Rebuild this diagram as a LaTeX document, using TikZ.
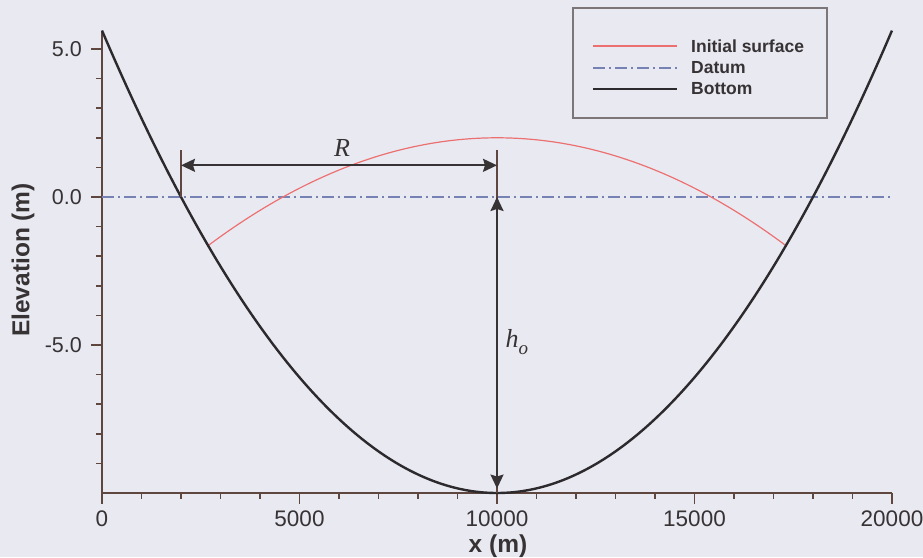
\documentclass[tikz,border=0pt]{standalone}
\usepackage{fontspec}
\setmainfont{Liberation Sans}
\newfontfamily\serifit{Liberation Serif}
\usetikzlibrary{arrows.meta}
\definecolor{bg}{RGB}{233,233,242}
\definecolor{axiscol}{RGB}{95,70,62}
\definecolor{curvecol}{RGB}{45,42,45}
\definecolor{redcol}{RGB}{236,112,112}
\definecolor{datumcol}{RGB}{118,130,180}
\definecolor{legbox}{RGB}{125,118,120}
\definecolor{textcol}{RGB}{55,50,52}
\tikzset{
  axisline/.style={draw=axiscol, line width=2pt},
  ticks/.style={draw=axiscol, line width=1.6pt},
  bottomline/.style={draw=curvecol, line width=2.4pt},
  redline/.style={draw=redcol, line width=1.2pt},
  datumline/.style={draw=datumcol, line width=1.3pt, dash pattern=on 12pt off 4pt on 2pt off 4pt},
  dimarrow/.style={draw=textcol, line width=2pt, {Stealth[length=14pt,width=13pt,inset=2pt]}-{Stealth[length=14pt,width=13pt,inset=2pt]}},
  guide/.style={draw=axiscol, line width=1.8pt},
  yticklabel/.style={inner sep=0pt, text=textcol, font=\fontsize{21.5}{25}\selectfont},
  xticklabel/.style={inner sep=0pt, text=textcol, font=\fontsize{22.5}{26}\selectfont},
  axlabel/.style={inner sep=0pt, text=textcol, font=\fontsize{24.5}{28}\selectfont\bfseries},
  legtext/.style={inner sep=0pt, anchor=west, text=textcol, font=\fontsize{17.5}{20}\selectfont\bfseries},
  mathlabel/.style={inner sep=0pt, text=textcol, font=\fontsize{26}{30}\selectfont\serifit\itshape}
}
\begin{document}
\begin{tikzpicture}[x=1pt,y=1pt]
\fill[bg] (0,0) rectangle (923,557);
\useasboundingbox (0,0) rectangle (923,557);

% legend
\node[draw=legbox, line width=1.2pt, minimum width=254pt, minimum height=110pt, inner sep=0pt] (legend) at (700,494) {};
\coordinate (l1a) at (593,511); \coordinate (l1b) at (677,511);
\coordinate (l2a) at (593,489); \coordinate (l2b) at (677,489);
\coordinate (l3a) at (593,468); \coordinate (l3b) at (677,468);
\draw[redline] (l1a) -- (l1b);
\draw[datumline] (l2a) -- (l2b);
\draw[bottomline] (l3a) -- (l3b);
\node[legtext] (t1) at (691,511) {Initial surface};
\node[legtext] (t2) at (691,489) {Datum};
\node[legtext] (t3) at (691,468) {Bottom};

\begin{scope}[shift={(102pt,360pt)}, x=39.5pt, y=29.6pt]
  % axes
  \draw[axisline] (0,-10) -- (0,5.62);
  \draw[axisline] (0,-10) -- (20,-10);
  \foreach \v in {-9,-8,-7,-6,-4,-3,-2,-1,1,2,3,4}
    \draw[ticks] (0,\v) -- ++(-6pt,0);
  \foreach \v/\t in {-5/-5.0,0/0.0,5/5.0} {
    \draw[ticks] (0,\v) -- ++(-11pt,0);
    \node[yticklabel, anchor=east] (yl\v) at ([xshift=-20pt]0,\v) {\t};
  }
  \foreach \u in {1,2,3,4,6,7,8,9,11,12,13,14,16,17,18,19}
    \draw[ticks] (\u,-10) -- ++(0,-6pt);
  \foreach \u/\t in {0/0,5/5000,10/10000,15/15000,20/20000} {
    \draw[ticks] (\u,-10) -- ++(0,-11pt);
    \node[xticklabel, anchor=north] (xl\u) at ([yshift=-18pt]\u,-10) {\t};
  }
  % curves
  \draw[datumline] (0,0) -- (20,0);
  \draw[redline] plot[domain=2.686:17.314, samples=81, smooth] (\x, {2-0.0681*(\x-10)^2});
  \draw[bottomline] plot[domain=0:20, samples=121, smooth] (\x, {-10*(1-((\x-10)/8)^2)});
  % dimension lines
  \coordinate (tickL0) at (2,0);
  \coordinate (tickL1) at (2,1.59);
  \coordinate (vT) at (10,1.59);
  \coordinate (vB) at (10,-10);
  \draw[guide] (tickL0) -- (tickL1);
  \draw[guide] (vT) -- (vB);
  \coordinate (Rl) at (2,1.07);
  \coordinate (Rr) at (10,1.07);
  \draw[dimarrow] (Rl) -- (Rr);
  \coordinate (hT) at (10,0);
  \coordinate (hB) at (10,-9.85);
  \draw[dimarrow] (hT) -- (hB);
  \node[mathlabel] (R) at (6.08,1.65) {R};
  \node[mathlabel] (ho) at (10.5,-4.9) {h\raisebox{-0.3em}{\fontsize{19}{22}\selectfont o}};
\end{scope}

% axis titles
\node[axlabel] (xt) at (498,11) {x (m)};
\node[axlabel, rotate=90] (yt) at (23,297) {Elevation (m)};
\end{tikzpicture}
\end{document}
